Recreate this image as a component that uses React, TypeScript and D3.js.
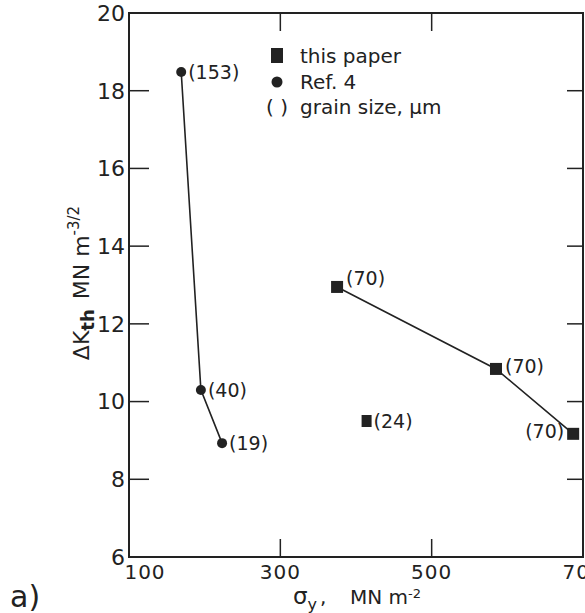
import React from "react";
import * as d3 from "d3";

const refSigma = [169, 195, 223];
const refDK = [18.48, 10.3, 8.93];
const refGrain = ["(153)", "(40)", "(19)"];

const paperSigma = [375, 585, 687];
const paperDK = [12.95, 10.84, 9.17];
const paperGrain = ["(70)", "(70)", "(70)"];

const extraSigma = [414];
const extraDK = [9.5];
const extraGrain = ["(24)"];

const xTicks = [100, 300, 500, 700];
const yTicks = [6, 8, 10, 12, 14, 16, 18, 20];

const W = 585;
const H = 613;
const FONT = "'DejaVu Sans', sans-serif";
const INK = "#222";

export default function App() {
  const x = d3.scaleLinear().domain([100, 700]).range([129, 583]);
  const y = d3.scaleLinear().domain([6, 20]).range([557, 13]);
  const line = d3
    .line<[number, number]>()
    .x((d) => x(d[0]))
    .y((d) => y(d[1]));
  const refPts: [number, number][] = refSigma.map((s, i) => [s, refDK[i]]);
  const paperPts: [number, number][] = paperSigma.map((s, i) => [s, paperDK[i]]);
  const innerY = yTicks.filter((t) => t > 6 && t < 20);
  const innerX = xTicks.filter((t) => t > 100 && t < 700);
  const sq = 12;
  const lblSize = 19;

  return (
    <svg
      width={W}
      height={H}
      style={{ position: "absolute", left: 0, top: 0, background: "#fff" }}
      fontFamily={FONT}
    >
      <rect x={0} y={0} width={W} height={H} fill="#fff" />
      {/* frame */}
      <rect
        x={x(100)}
        y={y(20)}
        width={x(700) - x(100)}
        height={y(6) - y(20)}
        fill="none"
        stroke={INK}
        strokeWidth={2}
      />
      {/* ticks */}
      {innerY.map((t) => (
        <g key={"yt" + t}>
          <line x1={x(100)} x2={x(100) + 20} y1={y(t)} y2={y(t)} stroke={INK} strokeWidth={1.5} />
          <line x1={x(700)} x2={x(700) - 16} y1={y(t)} y2={y(t)} stroke={INK} strokeWidth={1.5} />
        </g>
      ))}
      {innerX.map((t) => (
        <g key={"xt" + t}>
          <line x1={x(t)} x2={x(t)} y1={y(6)} y2={y(6) - 18} stroke={INK} strokeWidth={1.5} />
          <line x1={x(t)} x2={x(t)} y1={y(20)} y2={y(20) + 18} stroke={INK} strokeWidth={1.5} />
        </g>
      ))}
      {/* tick labels */}
      {yTicks.map((t) => (
        <text
          key={"yl" + t}
          x={x(100) - 4}
          y={y(t)}
          dy="0.36em"
          textAnchor="end"
          fontSize={22}
          fill={INK}
        >
          {t}
        </text>
      ))}
      {xTicks.map((t, i) => (
        <text
          key={"xl" + t}
          x={x(t) + (i === 0 ? 16 : 0)}
          y={y(6) + 22}
          textAnchor="middle"
          fontSize={20}
          letterSpacing={1}
          fill={INK}
        >
          {t}
        </text>
      ))}
      {/* axis titles */}
      <text x={293} y={604} fontSize={20} fill={INK}>
        <tspan fontSize={23}>σ</tspan>
        <tspan dy={6} fontSize={16}>y</tspan>
        <tspan x={320} dy={-6}>,</tspan>
        <tspan x={350}>MN m</tspan>
        <tspan dy={-6} fontSize={13}>-2</tspan>
      </text>
      <text
        transform={`translate(89, 283) rotate(-90)`}
        textAnchor="middle"
        fontSize={22}
        fill={INK}
      >
        <tspan>ΔK</tspan>
        <tspan dy={5} fontSize={18} fontWeight="bold">th</tspan>
        <tspan dx={10} dy={-5}>MN m</tspan>
        <tspan dy={-10} fontSize={15}>-3/2</tspan>
      </text>
      <text x={10} y={607} fontSize={30} fill={INK}>
        {"a)"}
      </text>
      {/* legend */}
      <rect x={271} y={48} width={12} height={15} fill={INK} />
      <text x={300} y={63} fontSize={20} fill={INK}>this paper</text>
      <circle cx={277} cy={82} r={5.5} fill={INK} />
      <text x={300} y={89} fontSize={20} fill={INK}>Ref. 4</text>
      <text x={266} y={114} fontSize={20} fill={INK}>
        <tspan>( )</tspan>
        <tspan x={300}>grain size, μm</tspan>
      </text>
      {/* data lines */}
      <path d={line(refPts) || ""} fill="none" stroke={INK} strokeWidth={1.6} />
      <path d={line(paperPts) || ""} fill="none" stroke={INK} strokeWidth={1.6} />
      {/* Ref 4 circles */}
      {refPts.map((p, i) => (
        <g key={"r" + i}>
          <circle cx={x(p[0])} cy={y(p[1])} r={5} fill={INK} />
          <text x={x(p[0]) + 7} y={y(p[1]) + 7} fontSize={lblSize} fill={INK}>
            {refGrain[i]}
          </text>
        </g>
      ))}
      {/* this paper squares */}
      {paperPts.map((p, i) => (
        <g key={"p" + i}>
          <rect x={x(p[0]) - sq / 2} y={y(p[1]) - sq / 2} width={sq} height={sq} fill={INK} />
          <text
            x={i === 2 ? x(p[0]) - 9 : x(p[0]) + 9}
            y={i === 0 ? y(p[1]) - 2 : y(p[1]) + 4}
            textAnchor={i === 2 ? "end" : "start"}
            fontSize={lblSize}
            fill={INK}
          >
            {paperGrain[i]}
          </text>
        </g>
      ))}
      {extraSigma.map((s, i) => (
        <g key={"e" + i}>
          <rect x={x(s) - 5} y={y(extraDK[i]) - sq / 2} width={10} height={sq} fill={INK} />
          <text x={x(s) + 7} y={y(extraDK[i]) + 7} fontSize={lblSize} fill={INK}>
            {extraGrain[i]}
          </text>
        </g>
      ))}
    </svg>
  );
}
